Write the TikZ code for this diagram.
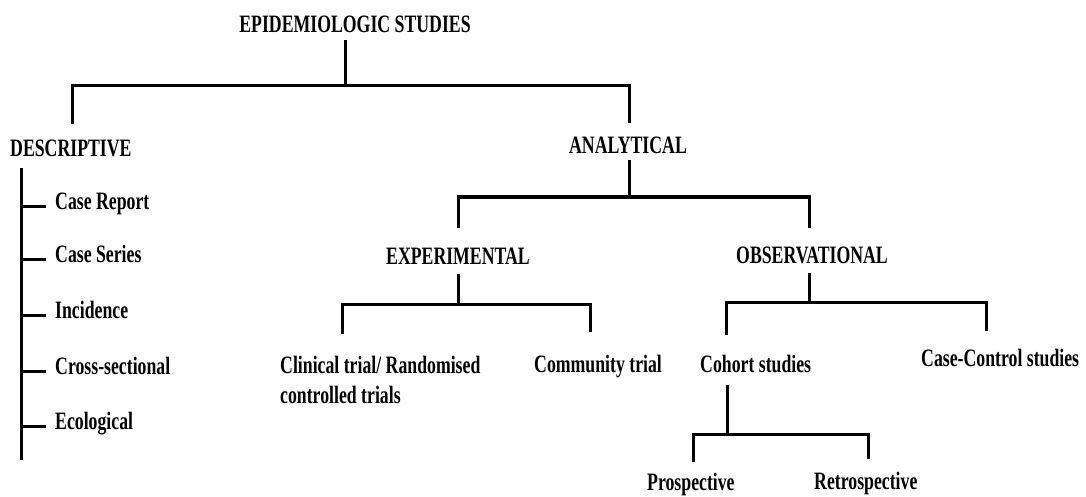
\documentclass[tikz,border=0pt]{standalone}
\usepackage{fontspec}
\setmainfont{Liberation Serif}[FakeStretch=0.71]
\begin{document}
\begin{tikzpicture}[x=1pt,y=-1pt,
  lbl/.style={font=\bfseries\fontsize{25}{30}\selectfont, inner sep=0pt, anchor=base west},
  lblc/.style={lbl, anchor=base},
  conn/.style={line width=3pt, line join=miter}]
\useasboundingbox (0,0) rectangle (1086,497);
% text nodes
\node[lblc] (title) at (355,33) {EPIDEMIOLOGIC STUDIES};
\node[lbl] (desc) at (10,157) {DESCRIPTIVE};
\node[lblc] (anal) at (628,154) {ANALYTICAL};
\node[lbl] (cr) at (55,209) {Case Report};
\node[lbl] (cs) at (55,262) {Case Series};
\node[lbl] (inc) at (55,318) {Incidence};
\node[lbl] (cross) at (55,374) {Cross-sectional};
\node[lbl] (eco) at (55,429) {Ecological};
\node[lblc] (exp) at (458,264) {EXPERIMENTAL};
\node[lblc] (obs) at (812,263) {OBSERVATIONAL};
\node[lbl] (clin) at (280,373) {\begin{tabular}[t]{@{}l@{}}Clinical trial/ Randomised\\controlled trials\end{tabular}};
\node[lbl] (comm) at (534,372) {Community trial};
\node[lbl] (coh) at (700,372) {Cohort studies};
\node[lbl] (cc) at (921,366) {Case-Control studies};
\node[lbl] (pro) at (647,490) {Prospective};
\node[lbl] (retro) at (814,489) {Retrospective};
% junction coordinates
\coordinate (t0) at (345,40);  \coordinate (b0) at (345,86);
\coordinate (dL) at (72,124);  \coordinate (dR) at (629,123);
\coordinate (dtop) at (21,168); \coordinate (dbot) at (21,460);
\coordinate (a0) at (629,160); \coordinate (a1) at (629,197);
\coordinate (eL) at (458,228); \coordinate (oR) at (809,228);
\coordinate (e0) at (458,274); \coordinate (e1) at (458,304);
\coordinate (clL) at (342,334); \coordinate (coR) at (590,332);
\coordinate (o0) at (809,273); \coordinate (o1) at (809,302);
\coordinate (chL) at (726,335); \coordinate (ccR) at (986,331);
\coordinate (h0) at (727,385); \coordinate (h1) at (727,434);
\coordinate (pL) at (693,462); \coordinate (rR) at (868,459);
% connectors
\draw[conn] (t0) -- (b0);
\draw[conn] (dL) |- (b0) -| (dR);
\draw[conn] (dtop) -- (dbot);
\foreach \n in {cr,cs,inc,cross,eco}{
  \draw[conn] (dtop |- \n.mid) -- ++(25,0);
}
\draw[conn] (a0) -- (a1);
\draw[conn] (eL) |- (a1) -| (oR);
\draw[conn] (e0) -- (e1);
\draw[conn] (clL) |- (e1) -| (coR);
\draw[conn] (o0) -- (o1);
\draw[conn] (chL) |- (o1) -| (ccR);
\draw[conn] (h0) -- (h1);
\draw[conn] (pL) |- (h1) -| (rR);
\end{tikzpicture}
\end{document}
